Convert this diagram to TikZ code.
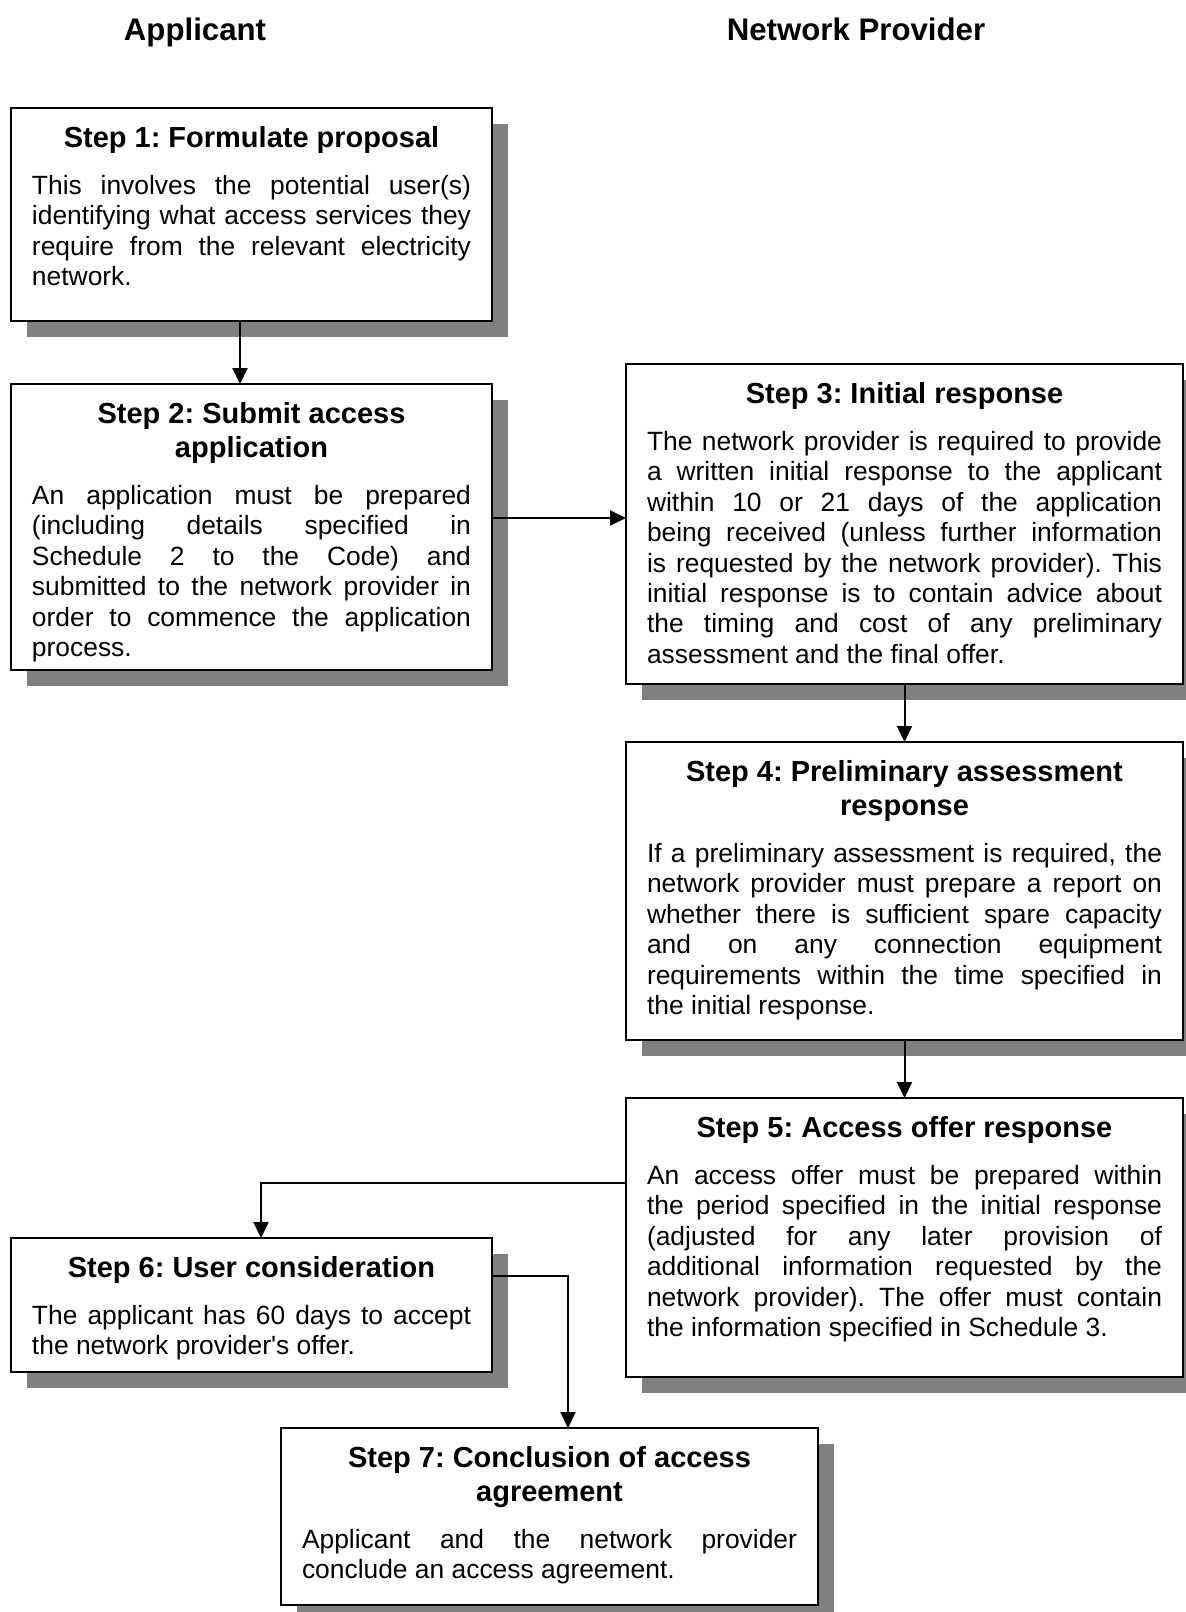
\documentclass[tikz,border=0pt]{standalone}
\usepackage{fontspec}
\setmainfont{Liberation Sans}
\usetikzlibrary{arrows.meta,shadows}
\frenchspacing
\newcommand{\bodyfont}{\fontsize{13.2}{15.2}\selectfont\tolerance=10000\hbadness=10000\hyphenpenalty=10000\exhyphenpenalty=10000}
\newcommand{\titlefont}{\fontsize{14.5}{17}\selectfont\bfseries}
\newcommand{\headfont}{\fontsize{15.6}{18}\selectfont\bfseries}
\newcommand{\steptitle}[1]{{\centering\titlefont #1\par}\vspace{8.5pt}}
\tikzset{%
  stepbox/.style={draw=black,line width=1pt,fill=white,
    drop shadow={shadow xshift=8pt,shadow yshift=-8pt,fill=black!50,opacity=1},
    anchor=north west,inner xsep=10.5pt,inner ysep=0pt,outer sep=0pt,
    align=justify,text height=19.5pt,font=\bodyfont},
  narrowstep/.style={stepbox,text width=219.5pt},
  widestep/.style={stepbox,text width=257.5pt},
  lanehead/.style={font=\headfont,inner sep=0pt,anchor=base},
  flow/.style={draw=black,line width=1pt,-{Triangle[length=8pt,width=7.5pt]}}
}

\begin{document}
\begin{tikzpicture}[x=0.5pt,y=-0.5pt]
    \useasboundingbox (0,0) rectangle (1186,1612);
    \path
      (195,40) node (hdrapp)[lanehead]{Applicant}
      (856,40) node (hdrnet)[lanehead]{Network Provider};
    \path
      (11,108) node (s1)[narrowstep,text depth=87pt]{\steptitle{Step 1: Formulate proposal}%
        This involves the potential user(s)\linebreak identifying what access services they\linebreak
        require from the relevant electricity\linebreak network.}
      (11,384) node (s2)[narrowstep,text depth=123.5pt]{\steptitle{Step 2: Submit access\\ application}%
        An application must be prepared\linebreak (including details specified in\linebreak
        Schedule 2 to the Code) and\linebreak submitted to the network provider in\linebreak
        order to commence the application\linebreak process.}
      (626,364) node (s3)[widestep,text depth=140.5pt]{\steptitle{Step 3: Initial response}%
        The network provider is required to provide\linebreak a written initial response to the applicant\linebreak
        within 10 or 21 days of the application\linebreak being received (unless further information\linebreak
        is requested by the network provider). This\linebreak initial response is to contain advice about\linebreak
        the timing and cost of any preliminary\linebreak assessment and the final offer.}
      (626,742) node (s4)[widestep,text depth=129.5pt]{\steptitle{Step 4: Preliminary assessment\\ response}%
        If a preliminary assessment is required, the\linebreak network provider must prepare a report on\linebreak
        whether there is sufficient spare capacity\linebreak and on any connection equipment\linebreak
        requirements within the time specified in\linebreak the initial response.}
      (626,1098) node (s5)[widestep,text depth=120pt]{\steptitle{Step 5: Access offer response}%
        An access offer must be prepared within\linebreak the period specified in the initial response\linebreak
        (adjusted for any later provision of\linebreak additional information requested by the\linebreak
        network provider). The offer must contain\linebreak the information specified in Schedule 3.}
      (11,1238) node (s6)[narrowstep,text depth=47.5pt]{\steptitle{Step 6: User consideration}%
        The applicant has 60 days to accept\linebreak the network provider\textquotesingle s offer.}
      (281,1428) node (s7)[stepbox,text width=247.5pt,text depth=69pt]{\steptitle{Step 7: Conclusion of access\\ agreement}%
        Applicant and the network provider\linebreak conclude an access agreement.};
    \draw[flow] ([xshift=-5.75pt]s1.south) -- ([xshift=-5.75pt]s2.north);
    \draw[flow] ([yshift=4.5pt]s2.east) -- ([yshift=4.5pt]s2.east -| s3.west);
    \draw[flow] (s3.south) -- (s4.north);
    \draw[flow] (s4.south) -- (s5.north);
    \draw[flow] ([yshift=27.25pt]s5.west) -| ([xshift=4.75pt]s6.north);
    \draw[flow] ([yshift=14.5pt]s6.east) -| ([xshift=9.25pt]s7.north);
  \end{tikzpicture}
\end{document}
